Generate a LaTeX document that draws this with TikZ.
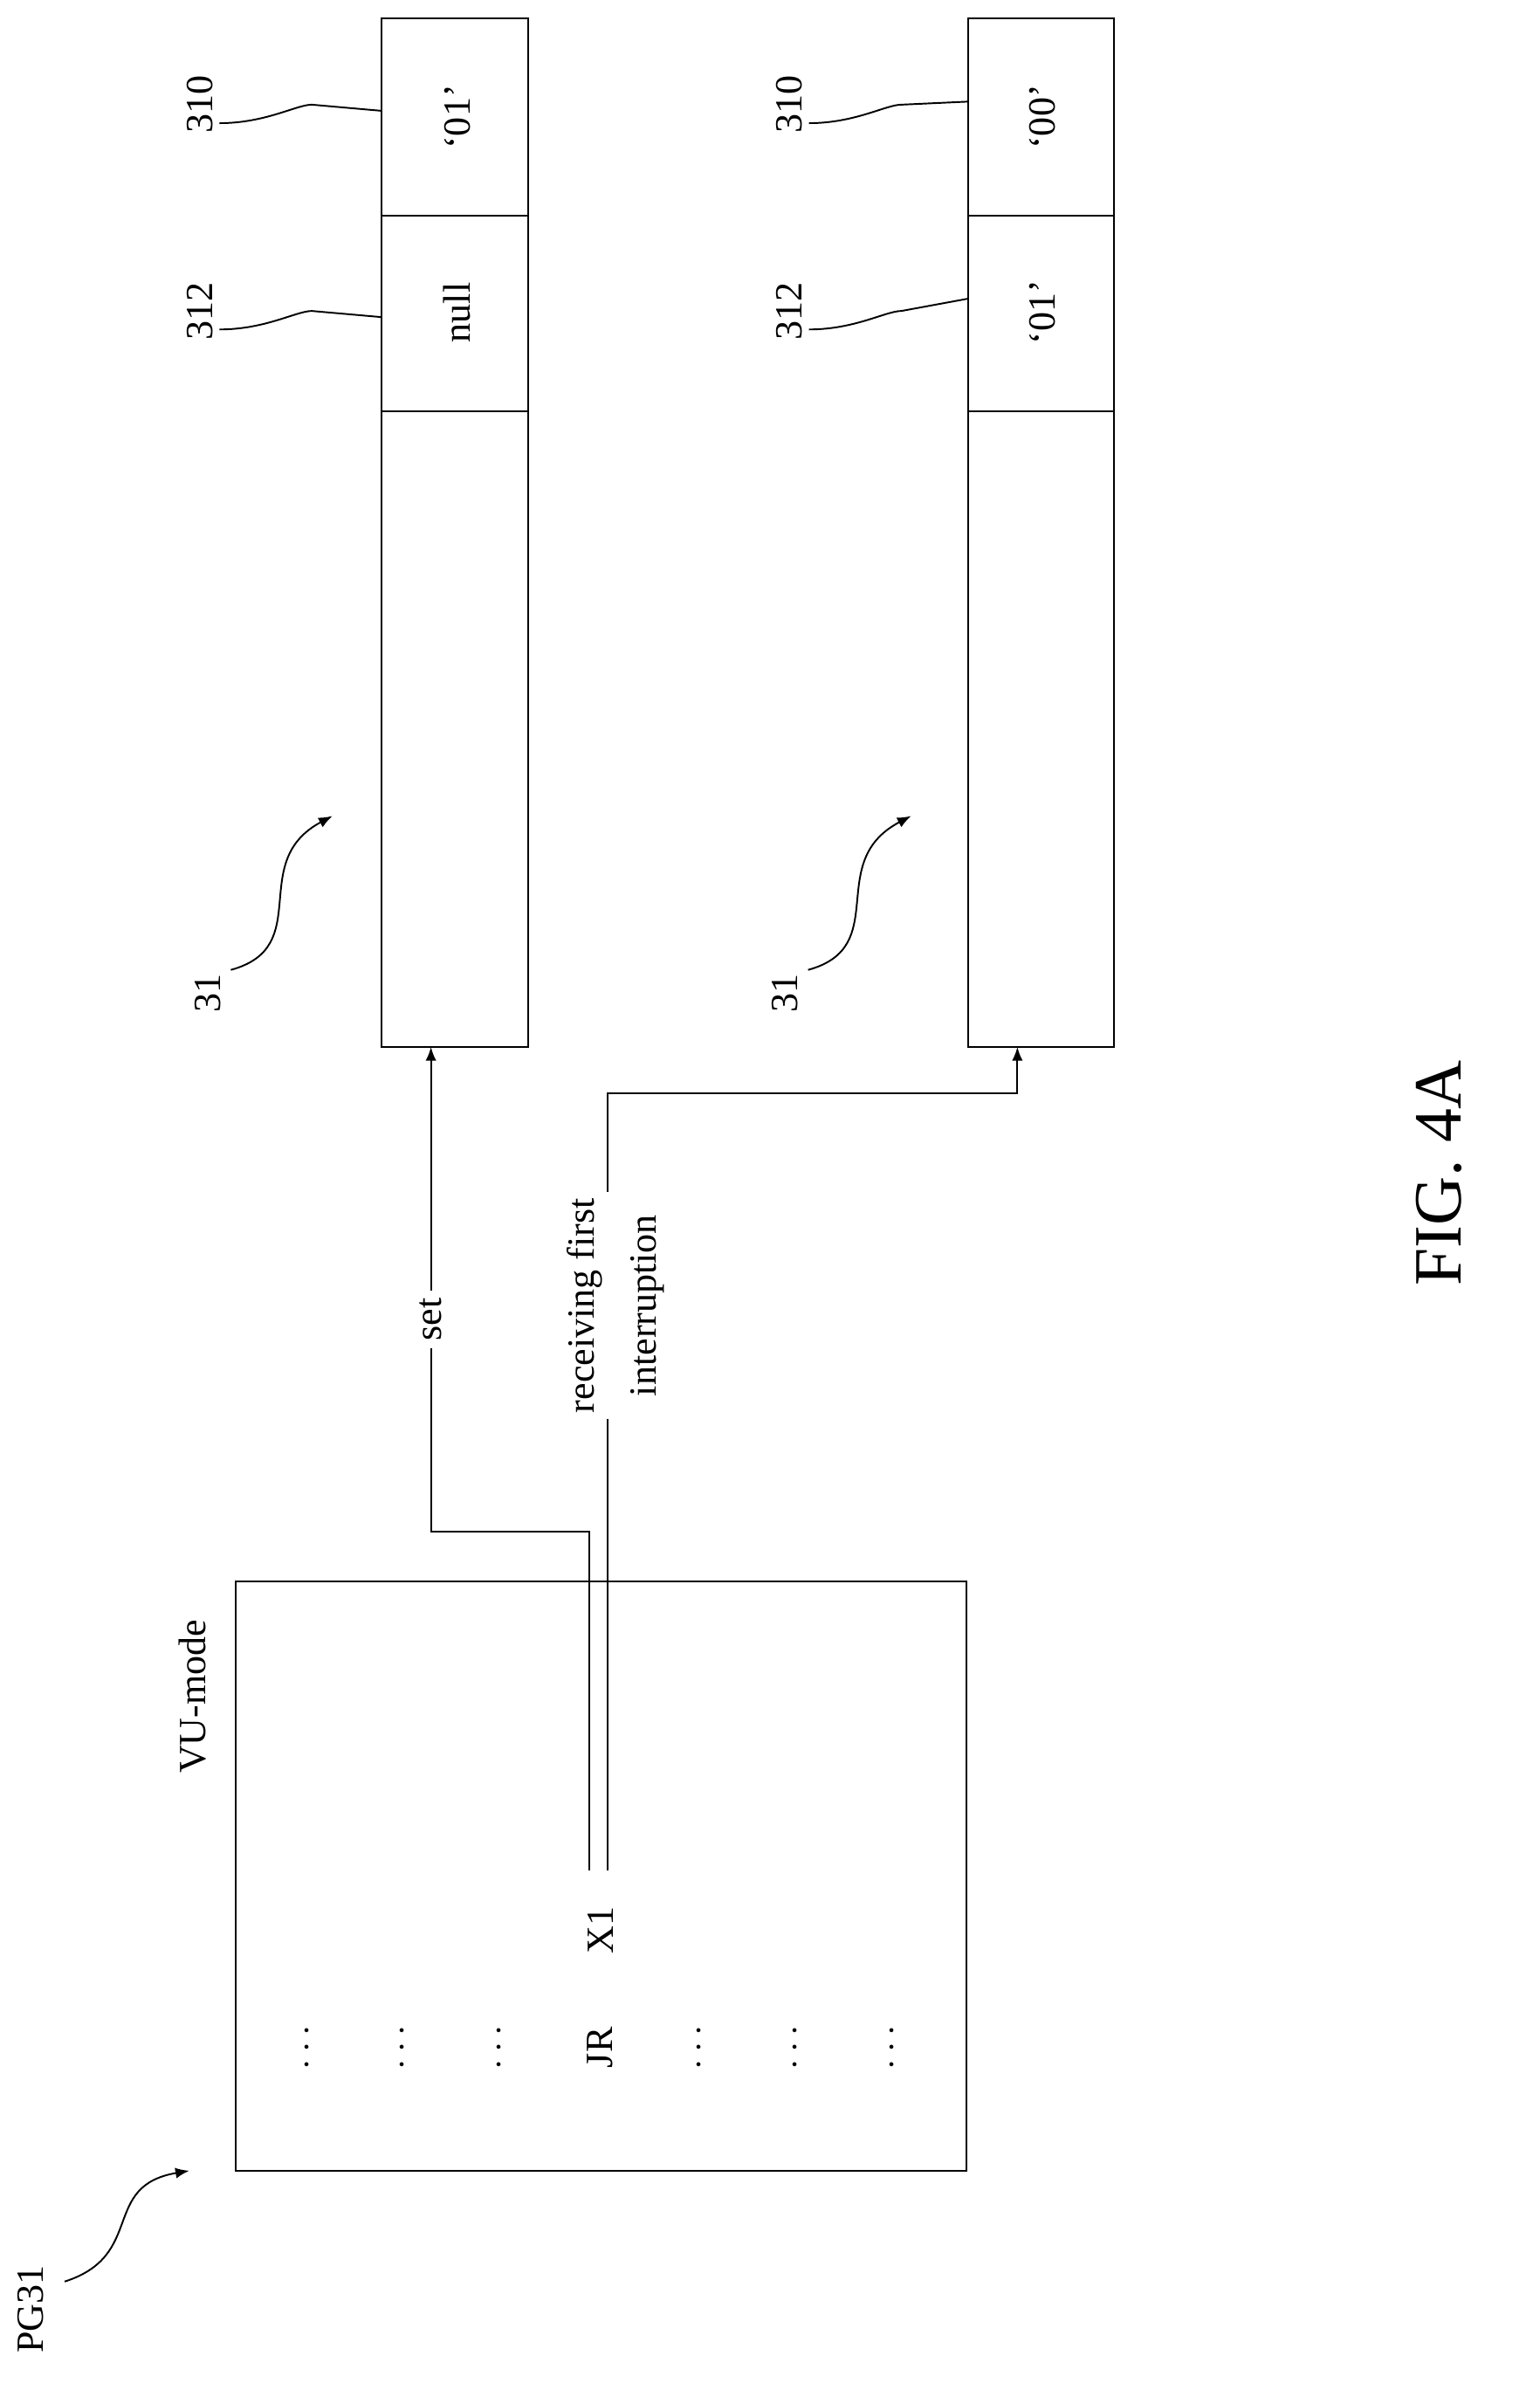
\documentclass[tikz,border=0pt]{standalone}
\usepackage{fontspec}
\setmainfont{Liberation Serif}
\usetikzlibrary{arrows.meta}
\begin{document}
\begin{tikzpicture}[x=1pt,y=-1pt,
  box/.style={draw,line width=1.2pt},
  txt/.style={font=\fontsize{25}{28}\selectfont,rotate=90,inner sep=1pt},
  lead/.style={line width=1.1pt},
  arr/.style={line width=1.1pt,-{Latex[length=9pt,width=7pt]}}]
\useasboundingbox (0,0) rectangle (1000,1557);
% registers
\foreach \n/\x in {a/248,b/629}{
  \draw[box] (\x,12) rectangle ({\x+95},680);
  \draw[box] (\x,140) -- ({\x+95},140);
  \draw[box] (\x,267) -- ({\x+95},267);
  \coordinate (\n bot) at ({\x+32},680);
}
\node[txt] (ta1) at (297,76) {‘01’};
\node[txt] (ta2) at (297,203) {null};
\node[txt] (tb1) at (677,76) {‘00’};
\node[txt] (tb2) at (677,203) {‘01’};
% labels 310 / 312
\node[txt] (l310a) at (130,68) {310};
\node[txt] (l312a) at (130,202) {312};
\node[txt] (l310b) at (513,68) {310};
\node[txt] (l312b) at (513,202) {312};
\coordinate (e310a) at (248,72); \coordinate (e312a) at (248,206);
\coordinate (e310b) at (629,66); \coordinate (e312b) at (629,194);
\draw[lead] (l310a.south) ++(3,12) .. controls +(30,0) and +(-10,0) .. ++(60,-12) -- (e310a);
\draw[lead] (l312a.south) ++(3,12) .. controls +(30,0) and +(-10,0) .. ++(60,-12) -- (e312a);
\draw[lead] (l310b.south) ++(3,12) .. controls +(30,0) and +(-10,0) .. ++(60,-12) -- (e310b);
\draw[lead] (l312b.south) ++(3,12) .. controls +(30,0) and +(-10,0) .. ++(60,-12) -- (e312b);
% 31 labels
\node[txt] (n31a) at (135,645) {31};
\node[txt] (n31b) at (510,645) {31};
\coordinate (t31a) at (216,530); \coordinate (t31b) at (592,530);
\draw[arr] (150,630) .. controls (205,615) and (160,560) .. (t31a);
\draw[arr] (525,630) .. controls (580,615) and (535,560) .. (t31b);
% VU-mode box
\draw[box] (153,1027) rectangle (628,1410);
\node[txt] (vu) at (125,1102) {VU-mode};
\foreach \x/\i in {200/1,262/2,325/3,455/4,517/5,580/6}
  \node[txt] (d\i) at (\x,1330) {$\cdots$};
\node[txt] (jr) at (390,1330) {JR};
\node[txt] (x1) at (390,1254) {X1};
% connectors
\coordinate (p1) at (383,1215); \coordinate (p2) at (383,995); \coordinate (p3) at (280,995);
\coordinate (q1) at (395,1215); \coordinate (q2) at (395,710); \coordinate (q3) at (661,710);
\draw[arr] (p1) -- (p2) -- (p3) -- (abot);
\draw[arr] (q1) -- (q2) -- (q3) -- (bbot);
\node[txt,fill=white,inner sep=5pt] (set) at (280,857) {set};
\node[txt,fill=white,align=center,inner sep=4pt,font=\fontsize{25}{40}\selectfont] (rcv) at (400,848) {receiving first\\interruption};
% PG31
\node[txt] (pg) at (20,1500) {PG31};
\draw[arr] (42,1482) .. controls (95,1465) and (65,1420) .. (123,1410);
% FIG
\node[txt,font=\fontsize{44}{48}\selectfont] (fig) at (935,762) {FIG. 4A};
\end{tikzpicture}
\end{document}
